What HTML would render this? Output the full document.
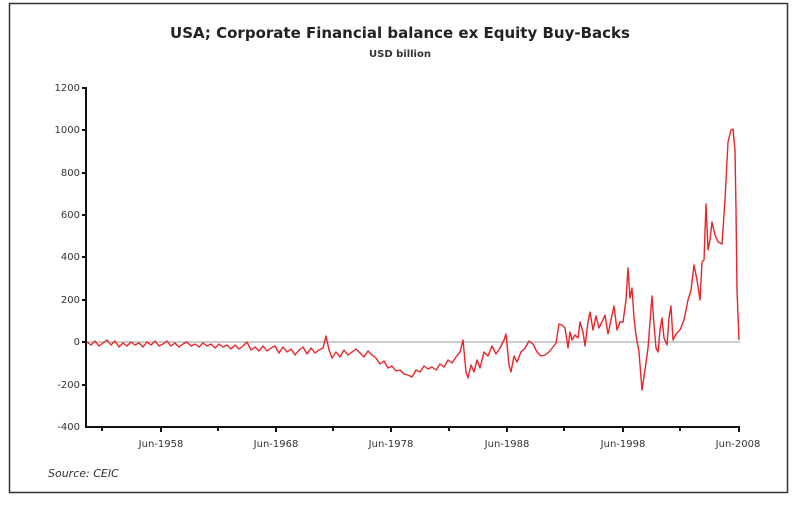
<!DOCTYPE html>
<html><head><meta charset="utf-8"><style>
body{margin:0;background:#fff;width:800px;height:506px;overflow:hidden}
svg{display:block}
text{font-family:"DejaVu Sans","Liberation Sans",sans-serif}
</style></head><body>
<svg width="800" height="506" viewBox="0 0 800 506">
<rect x="9.5" y="3.5" width="778" height="489" fill="#fff" stroke="#333" stroke-width="1.5"/>
<text x="400" y="38" text-anchor="middle" font-size="15" font-weight="bold" fill="#222">USA; Corporate Financial balance ex Equity Buy-Backs</text>
<text x="400" y="57" text-anchor="middle" font-size="10" font-weight="bold" fill="#333">USD billion</text>
<g font-size="10" fill="#333" text-anchor="end">
<text x="80" y="91">1200</text><text x="80" y="133">1000</text><text x="80" y="176">800</text>
<text x="80" y="218">600</text><text x="80" y="260">400</text><text x="80" y="303">200</text>
<text x="80" y="345">0</text><text x="80" y="388">-200</text><text x="80" y="430">-400</text>
</g>
<line x1="86" y1="342" x2="740" y2="342" stroke="#999" stroke-width="1"/>
<g stroke="#111" stroke-width="2">
<line x1="86" y1="87" x2="86" y2="428"/>
<line x1="85" y1="427" x2="740" y2="427"/>
<line x1="82" y1="88" x2="86" y2="88"/><line x1="82" y1="130" x2="86" y2="130"/><line x1="82" y1="173" x2="86" y2="173"/>
<line x1="82" y1="215" x2="86" y2="215"/><line x1="82" y1="257" x2="86" y2="257"/><line x1="82" y1="300" x2="86" y2="300"/>
<line x1="82" y1="342" x2="86" y2="342"/><line x1="82" y1="385" x2="86" y2="385"/>
<line x1="102" y1="427" x2="102" y2="431"/><line x1="161" y1="427" x2="161" y2="432"/><line x1="218" y1="427" x2="218" y2="431"/>
<line x1="276" y1="427" x2="276" y2="432"/><line x1="333" y1="427" x2="333" y2="431"/><line x1="391" y1="427" x2="391" y2="432"/>
<line x1="449" y1="427" x2="449" y2="431"/><line x1="507" y1="427" x2="507" y2="432"/><line x1="564" y1="427" x2="564" y2="431"/>
<line x1="623" y1="427" x2="623" y2="432"/><line x1="680" y1="427" x2="680" y2="431"/><line x1="739" y1="427" x2="739" y2="432"/>
</g>
<g font-size="10" fill="#333" text-anchor="middle">
<text x="161" y="447">Jun-1958</text><text x="276" y="447">Jun-1968</text><text x="391" y="447">Jun-1978</text>
<text x="507" y="447">Jun-1988</text><text x="623" y="447">Jun-1998</text><text x="738" y="447">Jun-2008</text>
</g>
<text x="48" y="477" font-size="11" font-style="italic" fill="#333">Source: CEIC</text>
<polyline fill="none" stroke="#e8252a" stroke-width="1.4" stroke-linejoin="round" points="
87,342 91,345 95,341 99,346 103,343 107,340 111,345 115,341 119,347 123,343 127,346 131,342 135,345 139,343 143,347 147,342 151,345 155,341 159,346 163,344 167,341 171,346 175,343 179,347 183,344 187,342 191,346 195,344 199,347 203,343 207,346 211,344 215,348 219,344 223,347 227,345 231,349 235,345 239,349 243,346 247,342 251,350 255,347 259,351 263,346 267,351 271,348 275,346 279,353 283,347 287,352 291,349 295,355 299,350 303,347 307,354 311,348 315,353 319,350 323,348 326,336 329,350 332,358 336,352 340,357 344,350 348,355 352,352 356,349 360,353 364,357 368,351 372,355 376,358 380,364 384,361 388,368 392,366 396,371 400,370 404,374 408,375 412,377 416,370 420,372 424,366 428,369 432,367 436,370 440,364 444,367 448,360 452,363 456,357 460,352 463,340 466,372 468,378 471,365 474,372 477,360 480,368 484,352 488,356 492,346 496,354 500,348 504,340 506,334 509,365 511,372 514,356 517,362 521,352 525,348 529,341 533,344 537,352 541,356 545,355 549,352 553,347 556,343 559,324 562,325 565,328 568,348 570,332 572,340 575,335 578,338 580,322 583,332 585,346 588,322 590,312 593,330 596,316 599,328 602,322 605,315 608,334 611,320 614,306 617,330 620,322 623,322 626,300 628,268 630,298 632,288 634,318 636,335 639,352 642,390 645,370 648,348 650,322 652,296 654,325 656,348 658,352 660,330 662,318 664,338 667,345 669,318 671,306 673,340 676,334 680,330 684,320 688,300 691,290 694,265 697,280 700,300 702,262 704,260 706,204 708,250 710,240 712,222 715,235 718,242 722,244 725,200 728,142 731,130 733,129 735,150 736,210 737,290 739,340"/>
</svg>
</body></html>
